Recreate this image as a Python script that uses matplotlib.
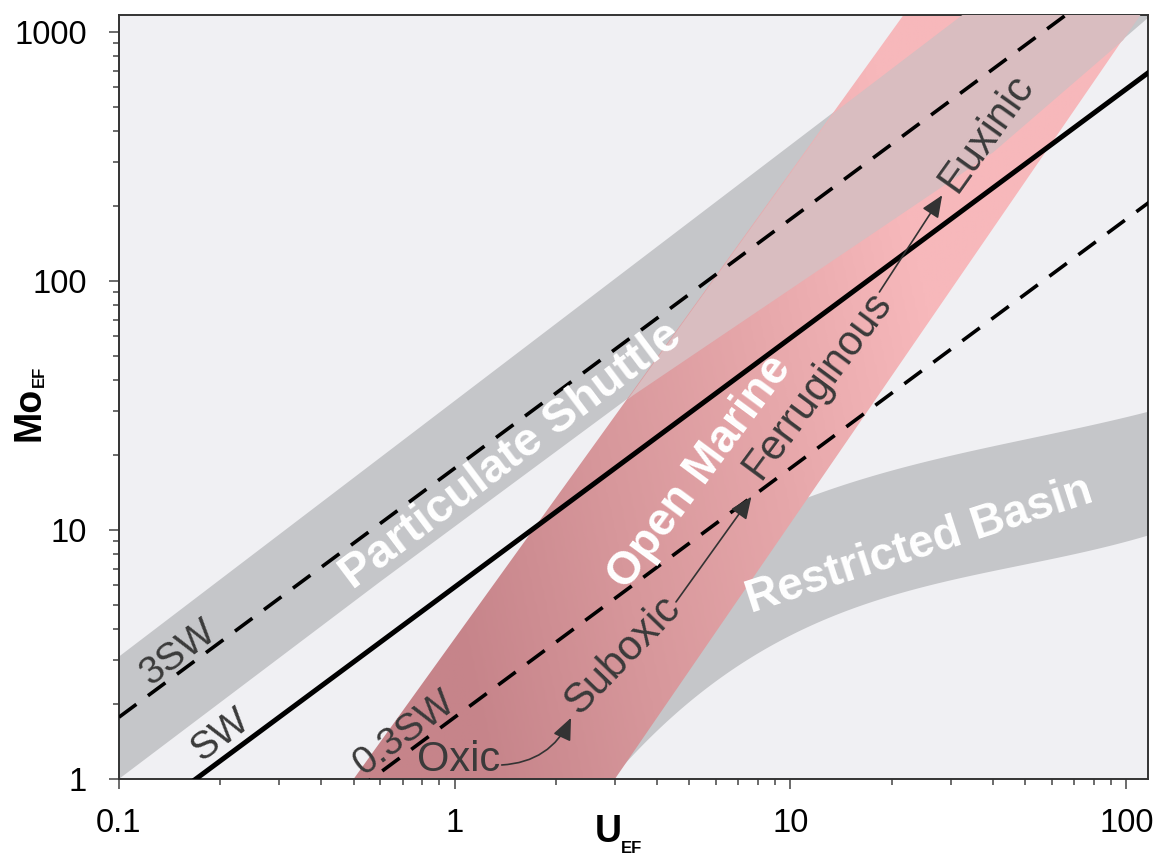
import numpy as np
import matplotlib
matplotlib.use("Agg")
import matplotlib.pyplot as plt
from matplotlib.patches import Polygon
from matplotlib.colors import LinearSegmentedColormap
from matplotlib.image import AxesImage
from matplotlib.ticker import FixedLocator, FixedFormatter, LogLocator, NullFormatter

plt.rcParams["font.family"] = ["Liberation Sans", "DejaVu Sans"]

# ---- axis ticks ----
u_ticks = [0.1, 1, 10, 100]
u_tick_labels = ["0.1", "1", "10", "100"]
mo_ticks = [1, 10, 100, 1000]
mo_tick_labels = ["1", "10", "100", "1000"]

# ---- seawater Mo/U reference lines ----
sw_ratio = 5.9
line_labels = ["3SW", "SW", "0.3SW"]
line_factors = [3.0, 1.0, 0.3]

# ---- particulate shuttle field (edges) ----
shuttle_upper_u = [0.1, 40.0]
shuttle_upper_mo = [3.1, 1460.0]
shuttle_lower_u = [0.1, 0.6, 3.4, 40.0, 130.0]
shuttle_lower_mo = [1.0, 6.2, 35.0, 330.0, 1300.0]

# ---- open marine field (edges) ----
marine_left_u = [0.5, 22.0]
marine_left_mo = [1.0, 1200.0]
marine_right_u = [3.0, 111.0]
marine_right_mo = [1.0, 1200.0]

# ---- restricted basin field (edges) ----
basin_upper_u = [3.0, 5.0, 11.8, 20.8, 29.2, 57.9, 120.0]
basin_upper_mo = [5.0, 8.0, 14.1, 17.1, 19.6, 24.5, 30.0]
basin_lower_u = [2.9, 3.77, 5.3, 8.37, 14.8, 29.2, 57.9, 120.0]
basin_lower_mo = [0.95, 1.47, 2.28, 3.30, 4.47, 6.30, 7.79, 9.5]

BG = "#f0f0f3"
GREY = "#c5c6c9"
OVERLAP = "#d9bdc0"
TXT = "#3a3a3a"


def fitted_edge(u, m, deg, u_from, u_to, n=300):
    """Smooth curve fitted to edge vertices in log-log space."""
    coef = np.polyfit(np.log10(u), np.log10(m), deg)
    lu = np.linspace(np.log10(u_from), np.log10(u_to), n)
    return 10 ** lu, 10 ** np.polyval(coef, lu)


def power_edge(u_pts, mo_pts):
    """Straight log-log edge through two points: returns Mo(U) and U(Mo)."""
    lu, lm = np.log10(u_pts), np.log10(mo_pts)
    s = (lm[1] - lm[0]) / (lu[1] - lu[0])
    mo_of_u = lambda u: 10 ** (lm[0] + s * (np.log10(u) - lu[0]))
    u_of_mo = lambda mo: 10 ** (lu[0] + (np.log10(mo) - lm[0]) / s)
    return mo_of_u, u_of_mo


fig = plt.figure(figsize=(11.56, 8.56), dpi=100)
ax = fig.add_axes([0.1029, 0.0900, 0.8901, 0.8925])
ax.set_facecolor(BG)
ax.set_xscale("log")
ax.set_yscale("log")
XMAX, YMAX = 116.0, 1170.0

# restricted basin band
bu_u, bu_m = fitted_edge(basin_upper_u, basin_upper_mo, 3, basin_upper_u[0], 130)
bl_u, bl_m = fitted_edge(basin_lower_u, basin_lower_mo, 3, basin_lower_u[0], 130)
basin_xy = np.vstack([np.column_stack([bu_u, bu_m]),
                      np.column_stack([bl_u, bl_m])[::-1]])
ax.add_patch(Polygon(basin_xy, closed=True, fc=GREY, ec="none", zorder=1))

# particulate shuttle band
shuttle_xy = np.vstack([np.column_stack([shuttle_upper_u, shuttle_upper_mo]),
                        np.column_stack([shuttle_lower_u, shuttle_lower_mo])[::-1]])
ax.add_patch(Polygon(shuttle_xy, closed=True, fc=GREY, ec="none", zorder=1))

# open marine band with a colour gradient
left_mo, left_u = power_edge(marine_left_u, marine_left_mo)
right_mo, right_u = power_edge(marine_right_u, marine_right_mo)
mo_span = np.array([0.8, 1500.0])
marine_xy = np.array([[left_u(mo_span[0]), mo_span[0]],
                      [left_u(mo_span[1]), mo_span[1]],
                      [right_u(mo_span[1]), mo_span[1]],
                      [right_u(mo_span[0]), mo_span[0]]])
marine_patch = Polygon(marine_xy, closed=True, fc="none", ec="none", zorder=2)
ax.add_patch(marine_patch)

fx, fy = np.meshgrid(np.linspace(0, 1, 400), np.linspace(0, 1, 400))
grad = np.clip(1.9 * fx + 0.3 * fy - 0.68, 0, 1)
pink_cmap = LinearSegmentedColormap.from_list(
    "marine", ["#c6848a", "#d7979b", "#e6a7aa", "#f7b8bb"])
im = AxesImage(ax, cmap=pink_cmap, interpolation="bilinear", origin="lower",
               extent=(0, 1, 0, 1), transform=ax.transAxes, zorder=2)
im.set_data(grad)
im.set_clim(0, 1)
ax.add_image(im)
im.set_clip_path(marine_patch)

# where the shuttle band runs through the marine band
u_grid = np.logspace(-1, np.log10(130), 1200)
g_lo = 10 ** np.interp(np.log10(u_grid), np.log10(shuttle_lower_u), np.log10(shuttle_lower_mo))
g_hi = 10 ** np.interp(np.log10(u_grid), np.log10(shuttle_upper_u), np.log10(shuttle_upper_mo))
lo = np.maximum(g_lo, right_mo(u_grid))
hi = np.minimum(g_hi, left_mo(u_grid))
ax.fill_between(u_grid, lo, hi, where=hi > lo, interpolate=True,
                color=OVERLAP, lw=0, zorder=3)

# seawater ratio lines
u_line = np.array([0.1, 130.0])
for lab, f in zip(line_labels, line_factors):
    if f == 1.0:
        ax.plot(u_line, f * sw_ratio * u_line, color="black", lw=3.6,
                solid_capstyle="butt", zorder=4)
    else:
        ax.plot(u_line, f * sw_ratio * u_line, color="black", lw=2.6,
                dashes=(6, 4), dash_capstyle="butt", zorder=4)

# line labels
ax.text(0.150, 3.21, "3SW", rotation=36.5, rotation_mode="anchor",
        ha="center", va="center", fontsize=28, color=TXT, zorder=5)
ax.text(0.200, 1.50, "SW", rotation=36.5, rotation_mode="anchor",
        ha="center", va="center", fontsize=28, color=TXT, zorder=5)
ax.text(0.706, 1.53, "0.3SW", rotation=36.5, rotation_mode="anchor",
        ha="center", va="center", fontsize=28, color=TXT, zorder=5)

# field labels
ax.text(1.476, 19.8, "Particulate Shuttle", rotation=37, rotation_mode="anchor",
        ha="center", va="center", fontsize=34, fontweight="bold",
        color="white", zorder=5)
ax.text(5.37, 17.1, "Open Marine", rotation=53.5, rotation_mode="anchor",
        ha="center", va="center", fontsize=33, fontweight="bold",
        color="white", zorder=5)
ax.text(24.2, 8.63, "Restricted Basin", rotation=18, rotation_mode="anchor",
        ha="center", va="center", fontsize=33, fontweight="bold",
        color="white", zorder=5)

# redox pathway labels
ax.text(1.03, 1.19, "Oxic", ha="center", va="center", fontsize=30,
        color=TXT, zorder=5)
ax.text(3.17, 3.15, "Suboxic", rotation=46, rotation_mode="anchor",
        ha="center", va="center", fontsize=30, color=TXT, zorder=5)
ax.text(12.0, 38.2, "Ferruginous", rotation=53.5, rotation_mode="anchor",
        ha="center", va="center", fontsize=30, color=TXT, zorder=5)
ax.text(38.4, 393, "Euxinic", rotation=54.5, rotation_mode="anchor",
        ha="center", va="center", fontsize=30, color=TXT, zorder=5)

arrow_kw = dict(arrowstyle="-|>,head_length=0.75,head_width=0.32",
                color="#333333", lw=1.2, shrinkA=0, shrinkB=0,
                mutation_scale=18)
ax.annotate("", xy=(2.22, 1.76), xytext=(1.38, 1.138), zorder=6,
            arrowprops=dict(connectionstyle="arc3,rad=0.3", **arrow_kw))
ax.annotate("", xy=(7.65, 13.6), xytext=(4.56, 5.14), zorder=6,
            arrowprops=dict(**arrow_kw))
ax.annotate("", xy=(28.3, 221), xytext=(18.4, 90.3), zorder=6,
            arrowprops=dict(**arrow_kw))

# axes styling
ax.set_xlim(0.1, XMAX)
ax.set_ylim(1, YMAX)
ax.xaxis.set_major_locator(FixedLocator(u_ticks))
ax.xaxis.set_major_formatter(FixedFormatter(u_tick_labels))
ax.yaxis.set_major_locator(FixedLocator(mo_ticks))
ax.yaxis.set_major_formatter(FixedFormatter(mo_tick_labels))
for axis in (ax.xaxis, ax.yaxis):
    axis.set_minor_locator(LogLocator(base=10, subs=np.arange(2, 10)))
    axis.set_minor_formatter(NullFormatter())
ax.tick_params(which="major", length=7, width=1.1, color="#444444",
               labelsize=23.5, labelcolor="black")
ax.tick_params(which="minor", length=4.3, width=1.1, color="#444444")
ax.tick_params(axis="y", which="major", pad=16)
ax.tick_params(axis="x", which="major", pad=14)
for sp in ax.spines.values():
    sp.set_linewidth(1.4)
    sp.set_color("#333333")

# axis titles with small subscripts
ax.text(0.476, -0.069, "U", transform=ax.transAxes, ha="center", va="center",
        fontsize=27, fontweight="bold", clip_on=False)
ax.text(0.4985, -0.091, "EF", transform=ax.transAxes, ha="center", va="center",
        fontsize=12, fontweight="bold", clip_on=False)
ax.text(-0.0865, 0.478, "Mo", transform=ax.transAxes, ha="center", va="center",
        rotation=90, fontsize=27, fontweight="bold", clip_on=False)
ax.text(-0.0775, 0.527, "EF", transform=ax.transAxes, ha="center", va="center",
        rotation=90, fontsize=12, fontweight="bold", clip_on=False)

fig.savefig("out.png", dpi=100, facecolor="white")
